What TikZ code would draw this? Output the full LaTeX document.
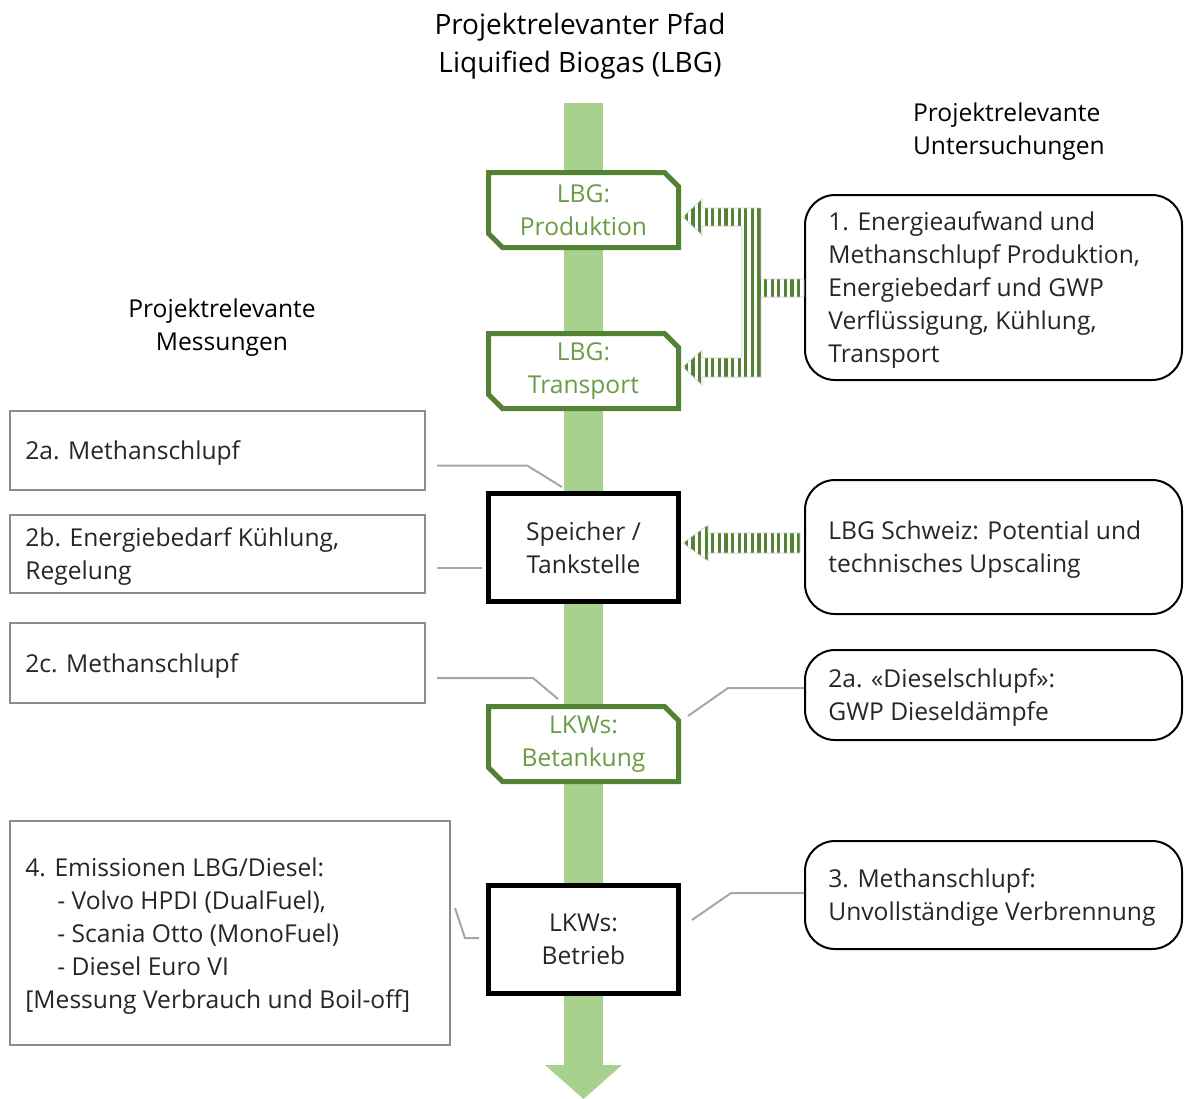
\documentclass[tikz,border=0pt]{standalone}
\usepackage{fontspec}
\setmainfont{Open Sans}
\usetikzlibrary{shapes.misc,calc,patterns.meta}

\definecolor{pipegreen}{HTML}{A9D18E}
\definecolor{boxgreen}{HTML}{548235}
\definecolor{textgreen}{HTML}{6A9B45}
\definecolor{leadgray}{HTML}{A6A6A6}
\definecolor{framegray}{HTML}{8C8C8C}
\definecolor{ink}{HTML}{262626}

\tikzset{
  body/.style={font=\fontsize{12.3}{16.5}\selectfont, text=ink},
  lbgbox/.style={body, text=textgreen, draw=boxgreen, line width=2.5pt, fill=white,
    chamfered rectangle, chamfered rectangle corners={north east,south west},
    chamfered rectangle xsep=3.5pt, chamfered rectangle ysep=3.5pt,
    minimum width=95pt, minimum height=37.5pt, align=center, inner sep=0pt},
  keybox/.style={body, draw=black, line width=2.5pt, fill=white,
    minimum width=95pt, minimum height=54pt, align=center, inner sep=0pt},
  ubox/.style={draw=black, line width=1pt, rounded corners=15pt, minimum width=188.5pt},
  mbox/.style={draw=framegray, line width=1pt, minimum width=207.5pt},
  utext/.style={body, anchor=west, align=left, inner sep=0pt, xshift=12pt, yshift=-1.5pt},
  mtext/.style={body, anchor=west, align=left, inner sep=0pt, xshift=8pt, yshift=-1.5pt},
  head/.style={body, text=black, align=center},
  lead/.style={leadgray, line width=1pt},
  stripes/.style={pattern={Lines[angle=90,distance=3.3pt,line width=1.6pt]}, pattern color=boxgreen}
}

\begin{document}
\begin{tikzpicture}[x=0.5pt,y=-0.5pt]
\useasboundingbox (0,0) rectangle (1185,1099);

% main path
\fill[pipegreen] (564,103) rectangle (603,1066);
\fill[pipegreen] (545,1065) -- (622,1065) -- (583.5,1099) -- cycle;

\node[head, font=\fontsize{14}{19}\selectfont] (title) at (580,46) {Projektrelevanter Pfad\\Liquified Biogas (LBG)};
\node[head, align=left, anchor=west] (uhead) at (906,132) {Projektrelevante\\Untersuchungen};
\node[head] (mhead) at (222,328) {Projektrelevante\\Messungen};

% steps on the path
\node[lbgbox] (prod) at (583.5,210) {LBG:\\Produktion};
\node[lbgbox] (trans) at (583.5,371) {LBG:\\Transport};
\node[keybox] (spk) at (583.5,547.5) {Speicher /\\Tankstelle};
\node[lbgbox] (bet) at (583.5,744) {LKWs:\\Betankung};
\node[keybox] (bt) at (583.5,939.5) {LKWs:\\Betrieb};

% Untersuchungen
\node[ubox, minimum height=92.5pt, label={[utext]west:{1. Energieaufwand und\\Methanschlupf Produktion,\\Energiebedarf und GWP\\Verflüssigung, Kühlung,\\Transport}}] (r1) at (993.5,287.5) {};
\node[ubox, minimum height=67pt, label={[utext]west:{LBG Schweiz: Potential und\\technisches Upscaling}}] (r2) at (993.5,547) {};
\node[ubox, minimum height=45pt, label={[utext]west:{2a. «Dieselschlupf»:\\GWP Dieseldämpfe}}] (r3) at (993.5,695) {};
\node[ubox, minimum height=54pt, label={[utext]west:{3. Methanschlupf:\\Unvollständige Verbrennung}}] (r4) at (993.5,895) {};

% Messungen
\node[mbox, minimum height=39.5pt, label={[mtext]west:{2a. Methanschlupf}}] (m2a) at (217.5,450.5) {};
\node[mbox, minimum height=39pt, label={[mtext]west:{2b. Energiebedarf Kühlung,\\Regelung}}] (m2b) at (217.5,554) {};
\node[mbox, minimum height=40pt, label={[mtext]west:{2c. Methanschlupf}}] (m2c) at (217.5,663) {};
\node[mbox, minimum width=220pt, minimum height=112pt, label={[mtext]west:{4. Emissionen LBG/Diesel:\\\hspace*{16pt}- Volvo HPDI (DualFuel),\\\hspace*{16pt}- Scania Otto (MonoFuel)\\\hspace*{16pt}- Diesel Euro VI\\{[}Messung Verbrauch und Boil-off{]}}}] (m4) at (230,933) {};

% striped arrows
\coordinate (up) at ($(prod.east)+(2,7)$);
\filldraw[stripes, draw=leadgray!60, line width=0.3pt] (up) -- ++(19,-18) -- ++(0,9) -- ++(59,0) -- ++(0,71)
  -- ++(43,0) -- ++(0,18) -- ++(-43,0) -- ++(0,80) -- ++(-59,0) -- ++(0,8) -- ++(-19,-18)
  -- ++(19,-17) -- ++(0,8) -- ++(40,0) -- ++(0,-132) -- ++(-40,0) -- ++(0,9) -- cycle;
\coordinate (sp) at ($(spk.east)+(2,-4.5)$);
\filldraw[stripes, draw=leadgray!60, line width=0.3pt] (sp) -- ++(25,-18) -- ++(0,8) -- ++(92,0) -- ++(0,20)
  -- ++(-92,0) -- ++(0,8) -- cycle;

% leader lines
\draw[lead] ($(m2a.east)+(11,15)$) -- ++(90,0) -- ($(spk.north west)+(76,-4)$);
\draw[lead] ($(m2b.east)+(11,14)$) -- ($(spk.west)+(-4,20.5)$);
\draw[lead] ($(m2c.east)+(11,15)$) -- ++(96,0) -- ($(bet.north west)+(72,-5)$);
\draw[lead] ($(m4.east)+(4,-25)$) -- ++(10,30) -- ($(bt.west)+(-7,-1.5)$);
\draw[lead] ($(r3.west)+(0,-7)$) -- ++(-76,0) -- ($(bet.east)+(7,-28)$);
\draw[lead] ($(r4.west)+(0,-2)$) -- ++(-73,0) -- ($(bt.east)+(11,-19.5)$);
\end{tikzpicture}
\end{document}
